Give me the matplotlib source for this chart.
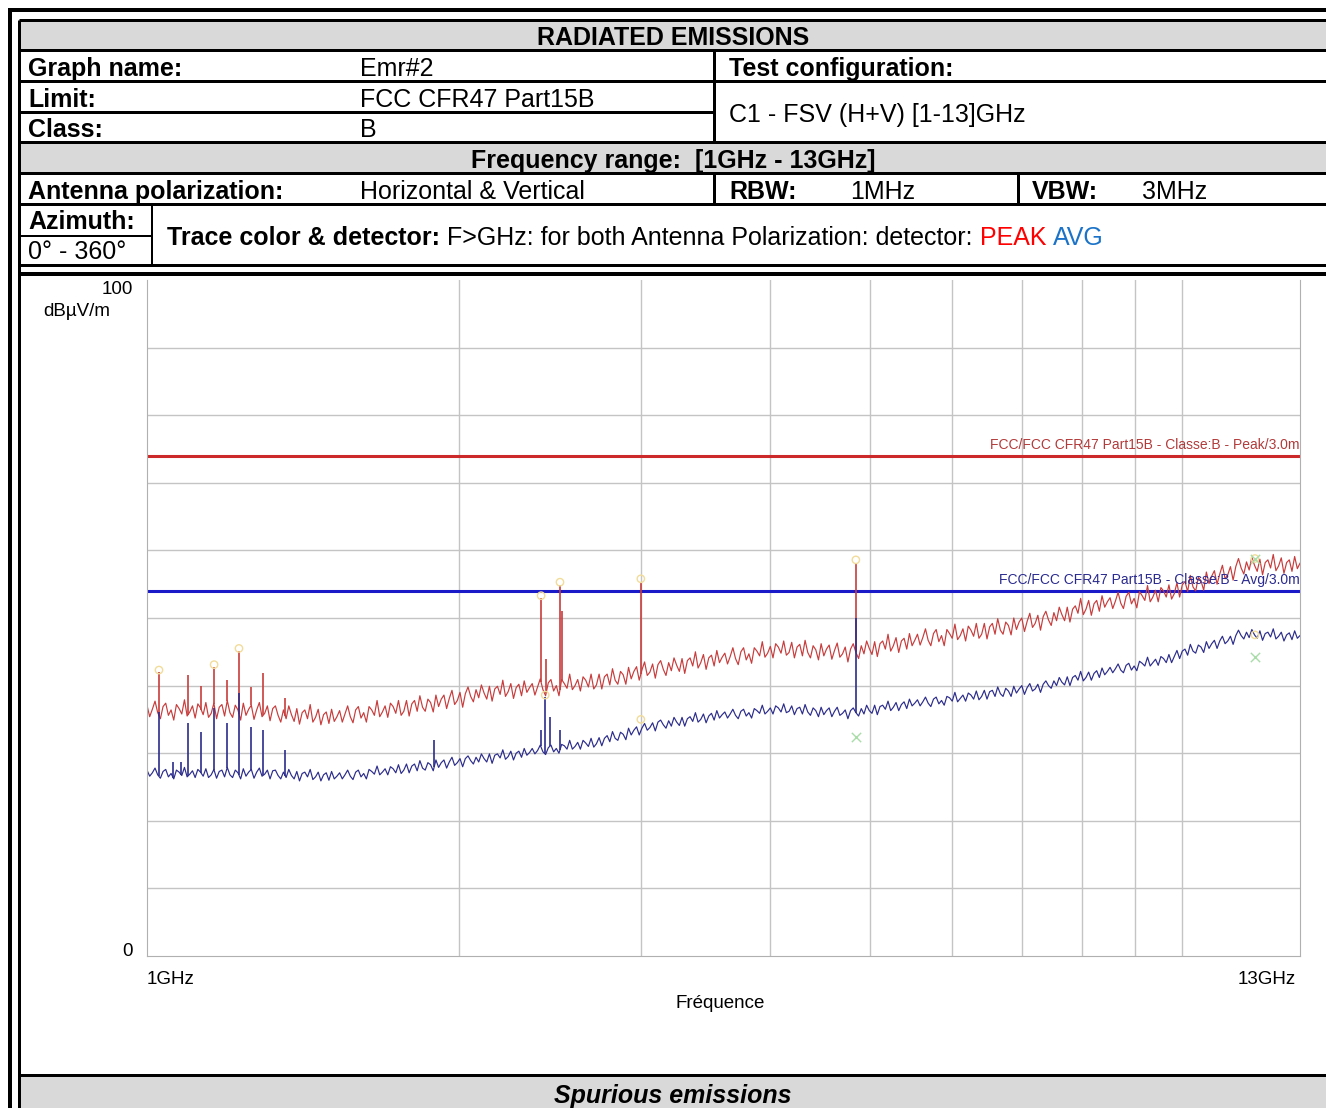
import numpy as np
import matplotlib
matplotlib.use("Agg")
import matplotlib.pyplot as plt

plt.rcParams['font.family'] = ['Liberation Sans', 'DejaVu Sans']

W, H = 1326, 1108

# --- donnees (dBuV/m) ---
f_start, f_stop = 1.0, 13.0          # GHz
limit_peak = 74.0
limit_avg = 54.0

peak_trace = [
    37.1, 35.4, 36.5, 37.7, 36.0, 35.1, 36.9, 37.4, 35.6, 36.4, 34.9, 37.2, 36.6, 35.8, 37.9, 35.5, 36.1, 37.0, 35.2, 37.3, 36.7, 35.7, 37.5, 35.3,
    35.9, 37.4, 35.1, 36.8, 37.2, 35.5, 37.8, 36.0, 35.3, 37.1, 36.4, 34.9, 37.4, 35.6, 36.5, 37.1, 35.0, 36.4, 37.5, 35.4, 35.9, 37.0, 34.8, 36.6,
    37.0, 35.6, 34.6, 36.4, 35.1, 37.0, 35.7, 34.7, 36.6, 34.3, 36.0, 36.4, 35.1, 37.2, 34.6, 35.3, 36.5, 34.2, 35.7, 36.1, 34.4, 36.5, 34.7, 35.4,
    36.3, 34.6, 35.8, 37.0, 35.4, 34.5, 36.4, 36.9, 35.2, 36.0, 34.6, 36.9, 36.4, 35.6, 37.8, 35.4, 36.1, 37.0, 35.3, 37.4, 36.9, 35.9, 37.8, 35.6,
    36.2, 37.8, 35.5, 37.3, 37.8, 36.2, 38.5, 36.8, 36.2, 38.0, 37.5, 36.1, 38.6, 36.9, 38.0, 38.6, 36.6, 38.1, 39.3, 37.2, 37.8, 39.0, 36.8, 38.8,
    39.8, 38.4, 37.6, 39.4, 38.2, 40.1, 38.9, 38.0, 39.9, 37.7, 39.5, 39.9, 38.7, 40.8, 38.4, 39.1, 40.3, 38.1, 39.7, 40.2, 38.5, 40.7, 39.0, 39.7,
    40.3, 38.6, 39.8, 41.0, 39.4, 38.5, 40.4, 40.9, 39.2, 40.0, 38.5, 40.9, 40.3, 39.6, 41.7, 39.4, 40.0, 40.9, 39.2, 41.3, 40.8, 39.8, 41.7, 39.5,
    40.1, 41.7, 39.5, 41.3, 41.7, 40.1, 42.5, 40.8, 40.2, 42.1, 41.6, 40.2, 42.7, 41.0, 42.1, 42.8, 40.8, 42.3, 43.5, 41.5, 42.0, 43.2, 41.1, 43.1,
    43.7, 42.4, 41.5, 43.4, 42.2, 44.1, 43.0, 42.1, 44.0, 41.8, 43.7, 44.1, 42.9, 45.0, 42.6, 43.4, 44.6, 42.4, 44.1, 44.5, 42.9, 45.2, 43.4, 44.2,
    44.8, 43.2, 44.3, 45.6, 44.0, 43.1, 45.0, 45.6, 43.8, 44.7, 43.3, 45.6, 45.1, 44.4, 46.5, 44.2, 44.8, 45.8, 44.1, 46.2, 45.7, 44.8, 46.6, 44.5,
    44.9, 46.4, 44.1, 45.7, 46.1, 44.4, 46.7, 44.9, 44.1, 45.9, 45.3, 43.8, 46.2, 44.4, 45.4, 46.0, 43.9, 45.2, 46.3, 44.2, 44.7, 45.7, 43.5, 45.4,
    46.2, 44.9, 44.0, 45.9, 44.7, 46.6, 45.5, 44.6, 46.5, 44.3, 46.2, 46.6, 45.4, 47.6, 45.1, 45.9, 47.1, 44.9, 46.6, 47.0, 45.4, 47.7, 45.9, 46.7,
    47.6, 46.0, 47.1, 48.4, 46.7, 45.9, 47.7, 48.3, 46.5, 47.4, 45.9, 48.3, 47.7, 47.0, 49.1, 46.8, 47.4, 48.4, 46.6, 48.8, 48.2, 47.3, 49.2, 47.0,
    47.6, 49.2, 46.9, 48.7, 49.2, 47.6, 49.9, 48.2, 47.6, 49.4, 48.9, 47.5, 50.0, 48.3, 49.4, 50.0, 48.0, 49.5, 50.7, 48.6, 49.2, 50.4, 48.2, 50.2,
    51.0, 49.7, 48.9, 50.8, 49.6, 51.6, 50.5, 49.6, 51.6, 49.4, 51.3, 51.8, 50.7, 52.9, 50.5, 51.3, 52.6, 50.4, 52.1, 52.6, 51.0, 53.3, 51.6, 52.4,
    53.0, 51.4, 52.5, 53.8, 52.2, 51.4, 53.2, 53.8, 52.1, 52.9, 51.5, 53.9, 53.3, 52.6, 54.8, 52.4, 53.1, 54.1, 52.4, 54.5, 54.0, 53.1, 54.9, 52.8,
    53.6, 55.2, 53.1, 54.9, 55.4, 53.9, 56.3, 54.6, 54.0, 56.0, 55.5, 54.1, 56.8, 55.1, 56.2, 57.0, 55.0, 56.5, 57.8, 55.8, 56.4, 57.6, 55.6, 57.6,
    58.8, 57.4, 56.5, 58.3, 57.1, 59.0, 57.8, 56.9, 58.7, 56.4, 58.2, 58.6, 57.4, 59.4, 57.0, 57.7, 58.9, 56.6, 58.2, 58.6, 56.9, 59.1, 57.3, 58.1,
]

avg_trace = [
    27.5, 26.6, 27.1, 27.8, 26.8, 26.3, 27.3, 27.6, 26.5, 27.0, 26.2, 27.5, 27.2, 26.7, 27.9, 26.5, 26.9, 27.4, 26.4, 27.6, 27.2, 26.6, 27.7, 26.4,
    26.8, 27.6, 26.3, 27.3, 27.5, 26.5, 27.9, 26.8, 26.4, 27.5, 27.1, 26.2, 27.7, 26.6, 27.2, 27.6, 26.3, 27.2, 27.8, 26.6, 26.9, 27.5, 26.2, 27.4,
    27.5, 26.7, 26.2, 27.2, 26.4, 27.6, 26.7, 26.2, 27.3, 25.9, 27.0, 27.2, 26.5, 27.6, 26.1, 26.5, 27.2, 25.9, 26.8, 27.1, 26.0, 27.3, 26.2, 26.6,
    27.1, 26.2, 26.8, 27.5, 26.6, 26.1, 27.2, 27.5, 26.5, 27.0, 26.2, 27.6, 27.3, 26.9, 28.1, 26.8, 27.2, 27.7, 26.8, 28.0, 27.7, 27.1, 28.3, 27.0,
    27.5, 28.4, 27.1, 28.1, 28.4, 27.4, 28.9, 27.8, 27.5, 28.6, 28.3, 27.4, 29.0, 27.9, 28.6, 29.0, 27.8, 28.7, 29.4, 28.2, 28.6, 29.2, 28.0, 29.2,
    29.6, 28.9, 28.4, 29.4, 28.7, 29.9, 29.2, 28.7, 29.9, 28.5, 29.7, 29.9, 29.3, 30.5, 29.1, 29.5, 30.3, 29.0, 30.0, 30.3, 29.4, 30.7, 29.7, 30.1,
    30.7, 29.9, 30.4, 31.2, 30.2, 29.8, 30.8, 31.2, 30.2, 30.7, 30.0, 31.3, 31.1, 30.6, 31.9, 30.6, 31.0, 31.6, 30.6, 31.9, 31.5, 31.0, 32.2, 30.9,
    31.4, 32.3, 31.1, 32.2, 32.6, 31.7, 33.2, 32.2, 31.9, 33.1, 32.8, 32.0, 33.7, 32.7, 33.4, 33.9, 32.7, 33.7, 34.4, 33.4, 33.8, 34.5, 33.3, 34.6,
    34.9, 34.2, 33.7, 34.8, 34.0, 35.3, 34.6, 34.1, 35.3, 34.0, 35.1, 35.4, 34.7, 36.0, 34.6, 35.0, 35.8, 34.5, 35.5, 35.9, 34.9, 36.3, 35.2, 35.7,
    36.1, 35.2, 35.8, 36.5, 35.6, 35.1, 36.2, 36.5, 35.5, 36.0, 35.2, 36.6, 36.3, 35.9, 37.1, 35.8, 36.2, 36.7, 35.8, 37.0, 36.7, 36.1, 37.3, 36.0,
    36.2, 37.0, 35.7, 36.6, 36.8, 35.8, 37.2, 36.1, 35.6, 36.7, 36.3, 35.4, 36.8, 35.7, 36.3, 36.7, 35.4, 36.2, 36.8, 35.6, 35.9, 36.4, 35.1, 36.3,
    36.7, 36.0, 35.5, 36.6, 35.8, 37.1, 36.3, 35.9, 37.1, 35.7, 36.9, 37.1, 36.5, 37.7, 36.3, 36.8, 37.5, 36.3, 37.2, 37.6, 36.6, 38.0, 37.0, 37.4,
    37.9, 37.0, 37.6, 38.3, 37.4, 36.9, 38.0, 38.3, 37.3, 37.8, 37.1, 38.4, 38.2, 37.7, 39.0, 37.6, 38.1, 38.6, 37.7, 38.9, 38.6, 38.0, 39.2, 37.9,
    38.4, 39.3, 38.0, 39.1, 39.3, 38.4, 39.8, 38.8, 38.4, 39.6, 39.2, 38.4, 39.9, 38.9, 39.5, 40.0, 38.7, 39.7, 40.3, 39.2, 39.5, 40.2, 39.0, 40.2,
    40.7, 40.0, 39.6, 40.7, 40.0, 41.2, 40.5, 40.1, 41.3, 40.0, 41.2, 41.5, 40.8, 42.1, 40.7, 41.2, 42.0, 40.8, 41.8, 42.2, 41.2, 42.6, 41.6, 42.1,
    42.7, 41.9, 42.5, 43.2, 42.3, 41.9, 43.0, 43.3, 42.3, 42.9, 42.2, 43.6, 43.3, 42.9, 44.2, 42.9, 43.4, 43.9, 43.0, 44.3, 44.0, 43.4, 44.6, 43.4,
    44.3, 45.2, 44.0, 45.1, 45.4, 44.5, 46.1, 45.1, 44.8, 46.0, 45.7, 44.9, 46.5, 45.5, 46.2, 46.7, 45.5, 46.6, 47.3, 46.2, 46.6, 47.3, 46.1, 47.4,
    48.2, 47.4, 46.9, 47.9, 47.1, 48.3, 47.5, 47.0, 48.1, 46.7, 47.7, 47.9, 47.2, 48.4, 46.9, 47.3, 47.9, 46.6, 47.5, 47.8, 46.8, 48.1, 47.0, 47.4,
]

# raies (GHz / niveau du sommet)
peak_spike_f = [1.027, 1.095, 1.128, 1.161, 1.195, 1.227, 1.261, 1.295, 1.360, 2.403, 2.430, 2.506, 2.520, 3.000, 4.840]
peak_spike_db = [42.0, 41.6, 40.0, 42.8, 40.8, 45.1, 39.8, 41.9, 38.2, 53.0, 44.0, 54.9, 51.0, 55.3, 58.1]
avg_spike_f = [1.027, 1.060, 1.079, 1.095, 1.128, 1.161, 1.195, 1.227, 1.261, 1.295, 1.360, 1.894, 2.400, 2.425, 2.451, 2.506, 4.840]
avg_spike_db = [36.1, 28.7, 28.7, 34.4, 33.1, 36.7, 34.4, 38.9, 33.9, 33.4, 30.5, 32.0, 33.4, 38.3, 35.4, 33.4, 50.0]

# marqueurs
circle_f = [1.027, 1.161, 1.227, 2.403, 2.506, 3.000, 4.840, 11.76, 2.425, 3.000, 11.76]
circle_db = [42.3, 43.1, 45.5, 53.3, 55.3, 55.8, 58.6, 58.8, 38.6, 35.0, 47.5]
cross_f = [4.840, 11.76, 11.76]
cross_db = [32.4, 44.2, 58.8]

sweep = np.geomspace(f_start, f_stop, len(peak_trace))

fig = plt.figure(figsize=(W / 100, H / 100), dpi=100)
bg = fig.add_axes([0, 0, 1, 1])
bg.set_xlim(0, W)
bg.set_ylim(H, 0)
bg.axis('off')

LW = 0.72  # px -> pt


def hl(y, x0, x1, w=3):
    bg.plot([x0, x1], [y, y], color='black', lw=w * LW, solid_capstyle='butt')


def vl(x, y0, y1, w=3):
    bg.plot([x, x], [y0, y1], color='black', lw=w * LW, solid_capstyle='butt')


# fonds gris
for y0, y1 in [(20, 50), (142, 173), (1075, H)]:
    bg.add_patch(plt.Rectangle((19, y0), W - 19, y1 - y0, color='#d9d9d9', lw=0))

# cadre
hl(10, 8, W, 4)
vl(10, 8, H, 4)
vl(19, 20, H, 3)
for y in [20, 50, 81, 142, 173, 204, 265]:
    hl(y, 19, W, 3)
hl(112, 19, 714, 3)
hl(236, 19, 152, 2)
hl(274, 19, W, 4)
hl(1075, 19, W, 3)
vl(714, 50, 142, 3)
vl(714, 173, 204, 3)
vl(1018, 173, 204, 3)
vl(152, 204, 265, 2)

FS = 18
dy = 2
kb = dict(fontsize=FS, fontweight='bold', va='center')
kn = dict(fontsize=FS, va='center')
bg.text(673, 36 + dy, "RADIATED EMISSIONS", ha='center', **kb)
bg.text(28, 67 + dy, "Graph name:", **kb)
bg.text(360, 67 + dy, "Emr#2", **kn)
bg.text(729, 67 + dy, "Test configuration:", **kb)
bg.text(28, 98 + dy, "Limit:", **kb)
bg.text(360, 98 + dy, "FCC CFR47 Part15B", **kn)
bg.text(28, 128 + dy, "Class:", **kb)
bg.text(360, 128 + dy, "B", **kn)
bg.text(729, 113 + dy, "C1 - FSV (H+V) [1-13]GHz", **kn)
bg.text(673, 159 + dy, "Frequency range:  [1GHz - 13GHz]", ha='center', **kb)
bg.text(28, 190 + dy, "Antenna polarization:", **kb)
bg.text(360, 190 + dy, "Horizontal & Vertical", **kn)
bg.text(729, 190 + dy, "RBW:", **kb)
bg.text(850, 190 + dy, "1MHz", **kn)
bg.text(1032, 190 + dy, "VBW:", **kb)
bg.text(1142, 190 + dy, "3MHz", **kn)
bg.text(28, 220 + dy, "Azimuth:", **kb)
bg.text(28, 250 + dy, "0° - 360°", **kn)
bg.text(673, 1094 + dy, "Spurious emissions", ha='center', fontstyle='italic', **kb)

# ligne mixte "Trace color & detector"
fig.canvas.draw()
rend = fig.canvas.get_renderer()
x = 167
for txt, style, col in [("Trace color & detector: ", kb, 'black'),
                        ("F>GHz: for both Antenna Polarization: detector: ", kn, 'black'),
                        ("PEAK ", kn, '#ff0000'),
                        ("AVG", kn, '#1a73c8')]:
    t = bg.text(x, 236 + dy, txt, color=col, **style)
    x += t.get_window_extent(rend).width

# graphe
ax = fig.add_axes([147 / W, 1 - 956 / H, 1153 / W, 676 / H])
ax.patch.set_alpha(0)
ax.set_xscale('log')
ax.set_xlim(f_start, f_stop)
ax.set_ylim(0, 100)
ax.set_xticks([2, 3, 4, 5, 6, 7, 8, 9, 10])
ax.set_xticks([], minor=True)
ax.set_yticks(range(10, 100, 10))
ax.grid(True, color='#c4c4c4', lw=1.0)
ax.tick_params(length=0, labelleft=False, labelbottom=False)
for s in ['left', 'bottom', 'right']:
    ax.spines[s].set_color('#b0b0b0')
ax.spines['top'].set_visible(False)

ax.axhline(limit_peak, color='#cc2a2a', lw=2.2)
ax.axhline(limit_avg, color='#1a1ac8', lw=2.2)
ax.text(13, limit_peak + 0.6, "FCC/FCC CFR47 Part15B - Classe:B - Peak/3.0m",
        ha='right', va='bottom', color='#b33a3a', fontsize=10)
ax.text(13, limit_avg + 0.6, "FCC/FCC CFR47 Part15B - Classe:B - Avg/3.0m",
        ha='right', va='bottom', color='#2a2a90', fontsize=10)

ax.plot(sweep, peak_trace, color='#c83c3c', lw=0.85)
ax.vlines(peak_spike_f, np.interp(peak_spike_f, sweep, peak_trace), peak_spike_db,
          color='#c83c3c', lw=1.2)
ax.plot(sweep, avg_trace, color='#2c2c8c', lw=0.85)
ax.vlines(avg_spike_f, np.interp(avg_spike_f, sweep, avg_trace), avg_spike_db,
          color='#2c2c8c', lw=1.2)
ax.scatter(circle_f, circle_db, s=28, facecolors='none', edgecolors='#f2dc9a', lw=1.0, zorder=4)
ax.scatter(cross_f, cross_db, s=45, marker='x', color='#a8dca8', lw=1.0, zorder=4)

# etiquettes d'axes
FA = 13.5
bg.text(133, 289, "100", ha='right', va='center', fontsize=FA)
bg.text(110, 312, "dBµV/m", ha='right', va='center', fontsize=FA)
bg.text(133, 951, "0", ha='right', va='center', fontsize=FA)
bg.text(147, 980, "1GHz", ha='left', va='center', fontsize=FA)
bg.text(1296, 980, "13GHz", ha='right', va='center', fontsize=FA)
bg.text(720, 1003, "Fréquence", ha='center', va='center', fontsize=FA)

fig.savefig("out.png", dpi=100)
